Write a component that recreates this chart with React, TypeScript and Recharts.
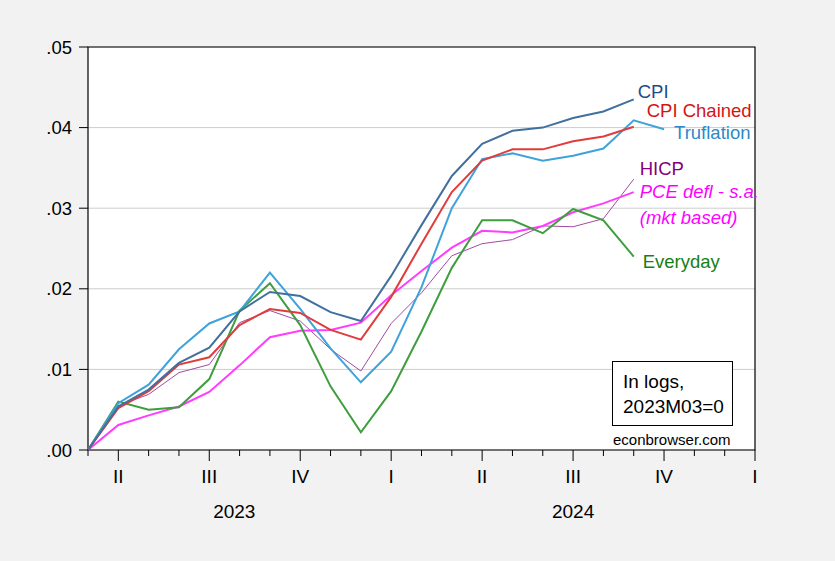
import { CartesianGrid, LabelList, Line, LineChart, ReferenceArea, XAxis, YAxis } from 'recharts';

// months 2023M03 .. 2025M01, index 0..22
const months = [
  '2023M03', '2023M04', '2023M05', '2023M06', '2023M07', '2023M08', '2023M09', '2023M10',
  '2023M11', '2023M12', '2024M01', '2024M02', '2024M03', '2024M04', '2024M05', '2024M06',
  '2024M07', '2024M08', '2024M09', '2024M10', '2024M11', '2024M12', '2025M01',
];
const quarterLabels = ['', 'II', '', '', 'III', '', '', 'IV', '', '', 'I', '', '', 'II', '', '', 'III', '', '', 'IV', '', '', 'I'];
const yTicks = [0, 0.01, 0.02, 0.03, 0.04, 0.05];

const cpi = [0, 0.0054, 0.0075, 0.0108, 0.0127, 0.0172, 0.0196, 0.0191, 0.0171, 0.016, 0.0216, 0.0279, 0.034, 0.038, 0.0396, 0.04, 0.0412, 0.042, 0.0435, null, null, null, null];
const cpiChained = [0, 0.0052, 0.0073, 0.0106, 0.0115, 0.0155, 0.0175, 0.017, 0.0149, 0.0137, 0.019, 0.0256, 0.032, 0.0359, 0.0373, 0.0373, 0.0383, 0.0389, 0.0401, null, null, null, null];
const truflation = [0, 0.0058, 0.0081, 0.0125, 0.0157, 0.0172, 0.022, 0.0175, 0.0126, 0.0084, 0.0122, 0.0202, 0.03, 0.0361, 0.0368, 0.0359, 0.0365, 0.0374, 0.0409, 0.0398, null, null, null];
const hicp = [0, 0.0055, 0.0069, 0.0096, 0.0106, 0.0158, 0.0173, 0.016, 0.0125, 0.0098, 0.0157, 0.0195, 0.0241, 0.0256, 0.0261, 0.0278, 0.0277, 0.0287, 0.0336, null, null, null, null];
const pce = [0, 0.0031, 0.0043, 0.0054, 0.0072, 0.0105, 0.014, 0.0148, 0.0149, 0.0158, 0.0192, 0.0222, 0.0251, 0.0272, 0.027, 0.0278, 0.0295, 0.0306, 0.032, null, null, null, null];
const everyday = [0, 0.006, 0.005, 0.0053, 0.0088, 0.0173, 0.0207, 0.0155, 0.0079, 0.0022, 0.0073, 0.0147, 0.0226, 0.0285, 0.0285, 0.0269, 0.0299, 0.0285, 0.024, null, null, null, null];

const data = months.map((m, i) => ({
  t: i,
  month: m,
  cpi: cpi[i],
  cpiChained: cpiChained[i],
  truflation: truflation[i],
  hicp: hicp[i],
  pce: pce[i],
  everyday: everyday[i],
}));

const lastIndex = (arr: (number | null)[]) => {
  let k = 0;
  arr.forEach((v, i) => { if (v !== null) k = i; });
  return k;
};

const FONT = "'Liberation Sans', Arial, sans-serif";

function MonthTick(props: any) {
  const { x, y, payload } = props;
  const t = payload.value as number;
  const roman = quarterLabels[t] || '';
  const major = roman !== '';
  return (
    <g>
      <line x1={x} x2={x} y1={y} y2={y + (major ? 11 : 6)} stroke="#000" strokeWidth={1} />
      {major && (
        <text x={x} y={y + 33} textAnchor="middle" fontSize={19} fill="#000">{roman}</text>
      )}
      {t === 4 && <text x={x + 25} y={y + 68} textAnchor="middle" fontSize={19} fill="#000">2023</text>}
      {t === 16 && <text x={x} y={y + 68} textAnchor="middle" fontSize={19} fill="#000">2024</text>}
    </g>
  );
}

function endLabel(idx: number, lines: string[], color: string, dx: number, dy: number, italic = false) {
  return (props: any) => {
    if (props.index !== idx) return null;
    const x = props.x ?? props.viewBox?.x;
    const y = props.y ?? props.viewBox?.y;
    return (
      <text x={x + dx} y={y + dy} fontSize={18.5} fill={color} fontStyle={italic ? 'italic' : 'normal'}>
        {lines.map((s, i) => (
          <tspan key={i} x={x + dx} dy={i === 0 ? 0 : 26}>{s}</tspan>
        ))}
      </text>
    );
  };
}

export default function App() {
  return (
    <div style={{ position: 'absolute', left: 0, top: 0, width: 835, height: 561, background: '#F2F2F2', fontFamily: FONT }}>
      <LineChart width={835} height={561} data={data} margin={{ top: 47, right: 80, bottom: 0, left: 0 }}>
        <CartesianGrid vertical={false} stroke="#CCCCCC" fill="#FFFFFF" />
        <XAxis
          dataKey="t"
          type="number"
          domain={[0, 22]}
          ticks={months.map((_, i) => i)}
          interval={0}
          height={111}
          tickSize={0}
          tickMargin={0}
          axisLine={false}
          tickLine={false}
          tick={<MonthTick />}
        />
        <YAxis
          type="number"
          domain={[0, 0.05]}
          ticks={yTicks}
          width={88}
          tickSize={9}
          tickMargin={7}
          axisLine={false}
          tickLine={{ stroke: '#000' }}
          tick={{ fontSize: 18.5, fill: '#000' }}
          tickFormatter={(v: number) => v.toFixed(2).replace(/^0/, '')}
        />
        <ReferenceArea x1={0} x2={22} y1={0} y2={0.05} fill="none" stroke="#000" strokeWidth={1.2} fillOpacity={0} ifOverflow="visible" />
        <Line dataKey="hicp" stroke="#A04CA0" strokeWidth={1} dot={false} isAnimationActive={false}>
          <LabelList content={endLabel(lastIndex(hicp), ['HICP'], '#800080', 6, -4)} />
        </Line>
        <Line dataKey="pce" stroke="#FF3CFF" strokeWidth={2} dot={false} isAnimationActive={false}>
          <LabelList content={endLabel(lastIndex(pce), ['PCE defl - s.a.', '(mkt based)'], '#FF00FF', 6, 6, true)} />
        </Line>
        <Line dataKey="everyday" stroke="#3E9E3E" strokeWidth={2} dot={false} isAnimationActive={false}>
          <LabelList content={endLabel(lastIndex(everyday), ['Everyday'], '#168016', 9, 11)} />
        </Line>
        <Line dataKey="truflation" stroke="#3FA2DA" strokeWidth={2} dot={false} isAnimationActive={false}>
          <LabelList content={endLabel(lastIndex(truflation), ['Truflation'], '#2C8AC8', 10, 10)} />
        </Line>
        <Line dataKey="cpiChained" stroke="#E03C3C" strokeWidth={2} dot={false} isAnimationActive={false}>
          <LabelList content={endLabel(lastIndex(cpiChained), ['CPI Chained'], '#D41414', 13, -10)} />
        </Line>
        <Line dataKey="cpi" stroke="#42709E" strokeWidth={2} dot={false} isAnimationActive={false}>
          <LabelList content={endLabel(lastIndex(cpi), ['CPI'], '#1B4C8C', 4, -1)} />
        </Line>
      </LineChart>
      <svg width={835} height={561} style={{ position: 'absolute', left: 0, top: 0, pointerEvents: 'none' }}>
        <rect x={612.5} y={361.5} width={120} height={64} fill="#FFFFFF" stroke="#000" strokeWidth={1} />
        <text x={623} y={388} fontSize={19} fill="#000">In logs,</text>
        <text x={623} y={412.5} fontSize={19} fill="#000">2023M03=0</text>
        <text x={613} y={445} fontSize={15} fill="#000">econbrowser.com</text>
      </svg>
    </div>
  );
}
